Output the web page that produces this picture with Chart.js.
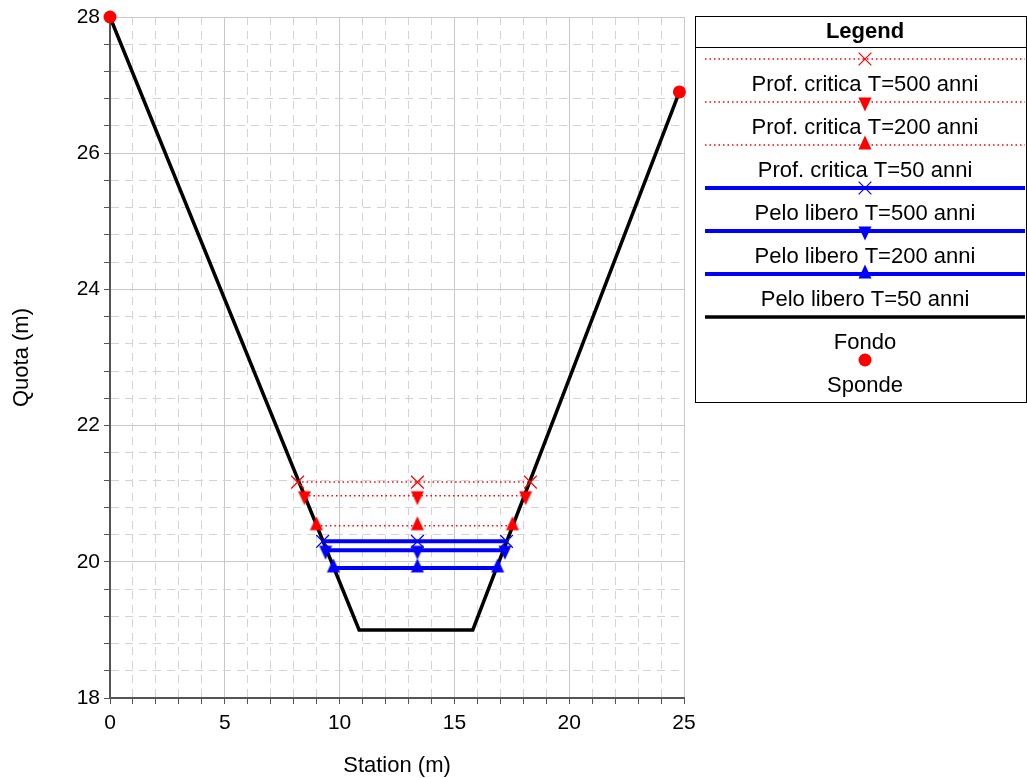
<!DOCTYPE html>
<html>
<head>
<meta charset="utf-8">
<title>Sezione</title>
<script src="https://cdn.jsdelivr.net/npm/chart.js@4.4.0/dist/chart.umd.min.js"></script>
<style>
  body { margin: 0; background: #fff; }
  #box { width: 1027px; height: 778px; }
</style>
</head>
<body>
<div id="box"><canvas id="sezione" width="1027" height="778"></canvas></div>
<script>
(function () {
    "use strict";

    // Profilo del fondo
    var fondoX = [0, 10.85, 15.8, 24.8];
    var fondoY = [28, 19, 19, 26.9];

    // Sponde
    var spondeX = [0, 24.8];
    var spondeY = [28, 26.9];

    // Livelli (prof. critica e pelo libero)
    var nomiLivelli = [
        "Prof. critica T=500 anni",
        "Prof. critica T=200 anni",
        "Prof. critica T=50 anni",
        "Pelo libero T=500 anni",
        "Pelo libero T=200 anni",
        "Pelo libero T=50 anni"
    ];
    var quoteLivelli = [21.17, 20.97, 20.53, 20.30, 20.17, 19.91];
    var xSinistra = [8.17, 8.47, 8.99, 9.26, 9.39, 9.73];
    var xCentro = [13.39, 13.39, 13.39, 13.39, 13.39, 13.39];
    var xDestra = [18.31, 18.10, 17.53, 17.27, 17.20, 16.88];

    // Etichette assi
    var xEtichette = [0, 5, 10, 15, 20, 25];
    var yEtichette = [18, 20, 22, 24, 26, 28];

    var font = '"Liberation Sans", Arial, sans-serif';
    Chart.defaults.font.family = font;
    Chart.defaults.font.size = 21;
    Chart.defaults.color = "#000";

    // Triangoli come marker
    function triangolo(colore, giu) {
        var c = document.createElement('canvas');
        c.width = 14;
        c.height = 20;
        var g = c.getContext('2d');
        g.fillStyle = colore;
        g.beginPath();
        if (giu) {
            g.moveTo(7, 19.5); g.lineTo(13.5, 5.5); g.lineTo(0.5, 5.5);
        } else {
            g.moveTo(7, 0.5); g.lineTo(13.5, 14.5); g.lineTo(0.5, 14.5);
        }
        g.closePath();
        g.fill();
        return c;
    }

    var stili = [
        { colore: "#ff0000", linea: 1.5, dash: [1.5, 3], marker: 'crossRot' },
        { colore: "#ff0000", linea: 1.5, dash: [1.5, 3], marker: triangolo("#ff0000", true) },
        { colore: "#ff0000", linea: 1.5, dash: [1.5, 3], marker: triangolo("#ff0000", false) },
        { colore: "#0000ff", linea: 4, dash: [], marker: 'crossRot' },
        { colore: "#0000ff", linea: 4, dash: [], marker: triangolo("#0000ff", true) },
        { colore: "#0000ff", linea: 4, dash: [], marker: triangolo("#0000ff", false) }
    ];

    var datasets = [];
    nomiLivelli.forEach(function (nome, i) {
        var s = stili[i];
        datasets.push({
            label: nome,
            data: [
                { x: xSinistra[i], y: quoteLivelli[i] },
                { x: xCentro[i], y: quoteLivelli[i] },
                { x: xDestra[i], y: quoteLivelli[i] }
            ],
            showLine: true,
            borderColor: s.colore,
            backgroundColor: s.colore,
            borderWidth: s.linea,
            borderDash: s.dash,
            pointStyle: s.marker,
            pointRadius: 9,
            pointBorderWidth: 1.2,
            pointBorderColor: s.colore,
            pointBackgroundColor: s.colore,
            order: 1
        });
    });

    datasets.push({
        label: "Fondo",
        data: fondoX.map(function (x, i) { return { x: x, y: fondoY[i] }; }),
        showLine: true,
        borderColor: "#000",
        borderWidth: 3.5,
        pointRadius: 0,
        order: 10
    });

    datasets.push({
        label: "Sponde",
        data: spondeX.map(function (x, i) { return { x: x, y: spondeY[i] }; }),
        showLine: false,
        backgroundColor: "#ff0000",
        borderColor: "#ff0000",
        borderWidth: 0,
        pointStyle: 'circle',
        pointRadius: 6.5,
        clip: false,
        order: -1
    });

    // Griglia: principali piene, secondarie tratteggiate
    function isMajor(ctx, lista) {
        if (!ctx.tick) return true;
        var v = ctx.tick.value;
        return lista.some(function (m) { return Math.abs(m - v) < 1e-6; });
    }

    // Legenda disegnata a mano
    var legenda = {
        id: 'legenda',
        afterDraw: function (chart) {
            var ctx = chart.ctx;
            var cx = 865;
            ctx.save();
            ctx.fillStyle = "#fff";
            ctx.fillRect(695.5, 16.5, 331, 386);
            ctx.strokeStyle = "#000";
            ctx.lineWidth = 1;
            ctx.strokeRect(695.5, 16.5, 331, 386);
            ctx.beginPath();
            ctx.moveTo(695.5, 47.5);
            ctx.lineTo(1026.5, 47.5);
            ctx.stroke();

            ctx.fillStyle = "#000";
            ctx.textAlign = "center";
            ctx.textBaseline = "middle";
            ctx.font = "bold 22px " + font;
            ctx.fillText("Legend", cx, 32);

            chart.data.datasets.forEach(function (ds, i) {
                var y = 59 + i * 43;
                if (ds.showLine) {
                    ctx.save();
                    ctx.strokeStyle = ds.borderColor;
                    ctx.lineWidth = ds.borderWidth;
                    ctx.setLineDash(ds.borderDash || []);
                    ctx.beginPath();
                    ctx.moveTo(705, y);
                    ctx.lineTo(1025, y);
                    ctx.stroke();
                    ctx.restore();
                }
                var ps = ds.pointStyle;
                if (ps && typeof ps === 'object') {
                    ctx.drawImage(ps, cx - ps.width / 2, y - ps.height / 2);
                } else if (ps === 'crossRot') {
                    var r = ds.pointRadius * Math.SQRT1_2;
                    ctx.save();
                    ctx.strokeStyle = ds.pointBorderColor;
                    ctx.lineWidth = ds.pointBorderWidth;
                    ctx.beginPath();
                    ctx.moveTo(cx - r, y - r); ctx.lineTo(cx + r, y + r);
                    ctx.moveTo(cx - r, y + r); ctx.lineTo(cx + r, y - r);
                    ctx.stroke();
                    ctx.restore();
                } else if (ps === 'circle') {
                    ctx.fillStyle = ds.backgroundColor;
                    ctx.beginPath();
                    ctx.arc(cx, y, ds.pointRadius, 0, Math.PI * 2);
                    ctx.fill();
                }
                ctx.fillStyle = "#000";
                ctx.font = "22px " + font;
                ctx.fillText(ds.label, cx, y + 25.5);
            });
            ctx.restore();
        }
    };

    var ctx = document.getElementById('sezione').getContext('2d');
    new Chart(ctx, {
        type: 'scatter',
        data: { datasets: datasets },
        options: {
            responsive: false,
            animation: false,
            layout: { padding: { top: 17, right: 343, left: 0, bottom: 0 } },
            plugins: {
                legend: { display: false },
                tooltip: { enabled: false }
            },
            scales: {
                x: {
                    type: 'linear',
                    min: 0,
                    max: 25,
                    afterFit: function (scale) { scale.height = 80; },
                    title: {
                        display: true,
                        text: 'Station (m)',
                        font: { size: 22 },
                        padding: { top: 0, bottom: -1 }
                    },
                    ticks: {
                        stepSize: 1,
                        autoSkip: false,
                        maxRotation: 0,
                        padding: 7,
                        callback: function (v) { return xEtichette.indexOf(v) >= 0 ? v : ''; }
                    },
                    grid: {
                        color: function (c) { return isMajor(c, xEtichette) ? '#c8c8c8' : '#d3d3d3'; },
                        tickColor: '#555',
                        tickLength: 6,
                        lineWidth: 1
                    },
                    border: {
                        color: '#555',
                        width: 2,
                        dash: function (c) { return isMajor(c, xEtichette) ? [] : [8, 6]; }
                    }
                },
                y: {
                    type: 'linear',
                    min: 18,
                    max: 28,
                    afterFit: function (scale) { scale.width = 110; },
                    title: {
                        display: true,
                        text: 'Quota (m)',
                        font: { size: 22 },
                        padding: { top: 9, bottom: 0 }
                    },
                    ticks: {
                        stepSize: 0.4,
                        autoSkip: false,
                        padding: 4,
                        callback: function (v) {
                            return yEtichette.some(function (m) { return Math.abs(m - v) < 1e-6; }) ? Math.round(v) : '';
                        }
                    },
                    grid: {
                        color: function (c) { return isMajor(c, yEtichette) ? '#c8c8c8' : '#d3d3d3'; },
                        tickColor: '#555',
                        tickLength: 6,
                        lineWidth: 1
                    },
                    border: {
                        color: '#555',
                        width: 2,
                        dash: function (c) { return isMajor(c, yEtichette) ? [] : [8, 6]; }
                    }
                }
            }
        },
        plugins: [legenda]
    });
})();
</script>
</body>
</html>
